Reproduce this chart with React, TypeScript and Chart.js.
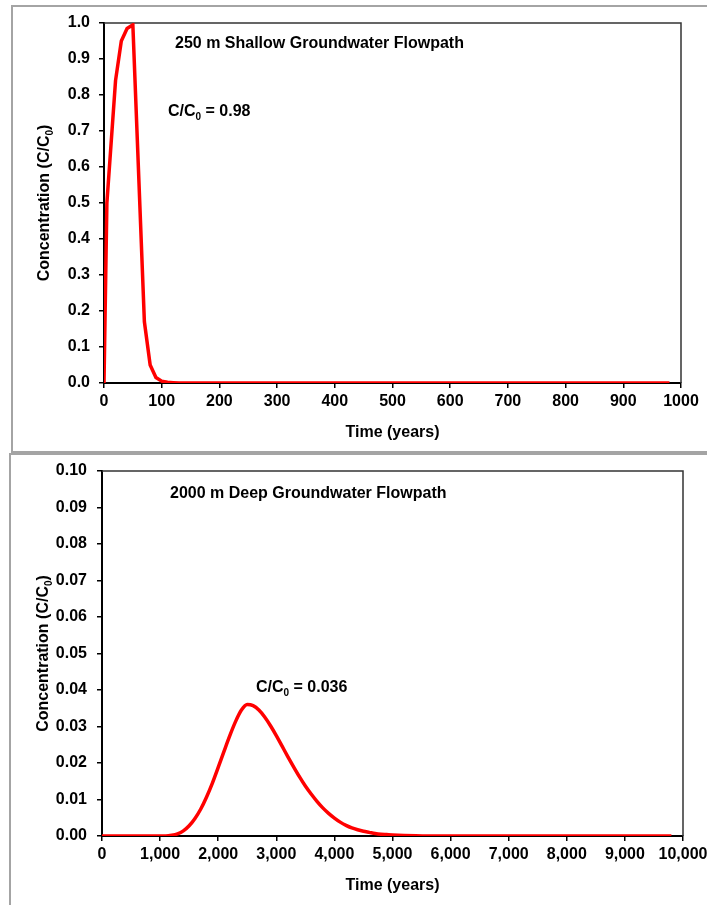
import { useEffect, useRef } from 'react';
import { Chart, registerables } from 'chart.js';

Chart.register(...registerables);

const FONT = '"Liberation Sans", Arial, Helvetica, sans-serif';

// ---- Top chart data (250 m shallow flowpath) ----
const topYears = [0, 5, 20, 30, 40, 50, 70, 80, 90, 100, 110, 120, 130, 980];
const topConc = [0, 0.5, 0.84, 0.95, 0.985, 0.995, 0.17, 0.05, 0.015, 0.005, 0.002, 0.001, 0, 0];
const topXTicks = [0, 100, 200, 300, 400, 500, 600, 700, 800, 900, 1000];
const topXLabels = ['0', '100', '200', '300', '400', '500', '600', '700', '800', '900', '1000'];
const topYTicks = [0, 0.1, 0.2, 0.3, 0.4, 0.5, 0.6, 0.7, 0.8, 0.9, 1.0];
const topYLabels = ['0.0', '0.1', '0.2', '0.3', '0.4', '0.5', '0.6', '0.7', '0.8', '0.9', '1.0'];

// ---- Bottom chart data (2000 m deep flowpath) ----
const bottomYears = [
  0, 1100, 1200, 1300, 1400, 1500, 1600, 1700, 1800, 1900, 2000, 2100, 2200, 2300, 2400, 2500,
  2600, 2700, 2800, 2900, 3000, 3100, 3200, 3300, 3400, 3500, 3600, 3700, 3800, 3900, 4000,
  4100, 4200, 4300, 4400, 4500, 4600, 4700, 4800, 4900, 5000, 5200, 5400, 5600, 9800,
];
const bottomConc = [
  0, 0, 0.0002, 0.0006, 0.0014, 0.0028, 0.0048, 0.0074, 0.0107, 0.0145, 0.0188, 0.0232, 0.0275,
  0.0314, 0.0345, 0.036, 0.0357, 0.0345, 0.0326, 0.0302, 0.0275, 0.0246, 0.0217, 0.0189, 0.0162,
  0.0137, 0.0115, 0.0095, 0.0077, 0.0062, 0.0049, 0.0038, 0.0029, 0.0022, 0.0017, 0.0013, 0.001,
  0.0007, 0.0005, 0.0004, 0.0003, 0.00015, 0.00005, 0, 0,
];
const bottomXTicks = [0, 1000, 2000, 3000, 4000, 5000, 6000, 7000, 8000, 9000, 10000];
const bottomXLabels = ['0', '1,000', '2,000', '3,000', '4,000', '5,000', '6,000', '7,000', '8,000', '9,000', '10,000'];
const bottomYTicks = [0, 0.01, 0.02, 0.03, 0.04, 0.05, 0.06, 0.07, 0.08, 0.09, 0.1];
const bottomYLabels = ['0.00', '0.01', '0.02', '0.03', '0.04', '0.05', '0.06', '0.07', '0.08', '0.09', '0.10'];

type Part = { t: string; sub?: boolean };

function richWidth(ctx: CanvasRenderingContext2D, parts: Part[], size: number) {
  let w = 0;
  for (const p of parts) {
    ctx.font = `bold ${p.sub ? Math.round(size * 0.65) : size}px ${FONT}`;
    w += ctx.measureText(p.t).width;
  }
  return w;
}

function drawRich(ctx: CanvasRenderingContext2D, parts: Part[], x: number, y: number, size: number) {
  let cx = x;
  ctx.textBaseline = 'alphabetic';
  ctx.textAlign = 'left';
  ctx.fillStyle = '#000';
  for (const p of parts) {
    const s = p.sub ? Math.round(size * 0.65) : size;
    ctx.font = `bold ${s}px ${FONT}`;
    ctx.fillText(p.t, cx, p.sub ? y + size * 0.22 : y);
    cx += ctx.measureText(p.t).width;
  }
}

const yTitleParts: Part[] = [{ t: 'Concentration (C/C' }, { t: '0', sub: true }, { t: ')' }];
const TEXT_SIZE = 16;

interface Cfg {
  years: number[];
  conc: number[];
  xTicks: number[];
  xLabels: string[];
  yTicks: number[];
  yLabels: string[];
  yAxisWidth: number;
  xAxisHeight: number;
  padTop: number;
  padRight: number;
  yPad: number;
  monotone: boolean;
  title: string;
  titleDX: number;
  titleDY: number;
  ratio: string;
  ratioDX: number;
  ratioDY: number;
  yTitleX: number;
  xTitleDY: number;
}

function makeChart(canvas: HTMLCanvasElement, c: Cfg) {
  const textPlugin = {
    id: 'texts',
    beforeDatasetsDraw(chart: any) {
      const { ctx, chartArea: a } = chart;
      ctx.save();
      ctx.strokeStyle = '#333';
      ctx.lineWidth = 1.5;
      ctx.beginPath();
      ctx.moveTo(a.left, a.top);
      ctx.lineTo(a.right, a.top);
      ctx.lineTo(a.right, a.bottom);
      ctx.stroke();
      ctx.restore();
    },
    afterDraw(chart: any) {
      const { ctx, chartArea: a } = chart;
      ctx.save();
      drawRich(ctx, [{ t: c.title }], a.left + c.titleDX, a.top + c.titleDY, TEXT_SIZE);
      drawRich(
        ctx,
        [{ t: 'C/C' }, { t: '0', sub: true }, { t: ' = ' + c.ratio }],
        a.left + c.ratioDX,
        a.top + c.ratioDY,
        TEXT_SIZE
      );
      ctx.font = `bold ${TEXT_SIZE}px ${FONT}`;
      ctx.textAlign = 'center';
      ctx.textBaseline = 'alphabetic';
      ctx.fillStyle = '#000';
      ctx.fillText('Time (years)', (a.left + a.right) / 2, a.bottom + c.xTitleDY);
      const w = richWidth(ctx, yTitleParts, TEXT_SIZE);
      ctx.translate(c.yTitleX, (a.top + a.bottom) / 2);
      ctx.rotate(-Math.PI / 2);
      drawRich(ctx, yTitleParts, -w / 2, 0, TEXT_SIZE);
      ctx.restore();
    },
  };

  const tickFont = { family: FONT, size: 16, weight: 'bold' as const };

  return new Chart(canvas, {
    type: 'line',
    data: {
      datasets: [
        {
          data: c.years.map((x, i) => ({ x, y: c.conc[i] })),
          borderColor: '#ff0000',
          borderWidth: 3.5,
          pointRadius: 0,
          fill: false,
          tension: 0,
          cubicInterpolationMode: c.monotone ? 'monotone' : 'default',
        },
      ],
    },
    options: {
      responsive: false,
      animation: false,
      devicePixelRatio: 1,
      layout: { padding: { top: c.padTop, right: c.padRight, left: 0, bottom: 0 } },
      plugins: { legend: { display: false }, tooltip: { enabled: false }, title: { display: false } },
      scales: {
        x: {
          type: 'linear',
          min: c.xTicks[0],
          max: c.xTicks[c.xTicks.length - 1],
          afterBuildTicks: (s: any) => {
            s.ticks = c.xTicks.map((v) => ({ value: v }));
          },
          afterFit: (s: any) => {
            s.height = c.xAxisHeight;
            s.paddingLeft = 0;
            s.paddingRight = 0;
          },
          ticks: {
            autoSkip: false,
            maxRotation: 0,
            minRotation: 0,
            color: '#000',
            font: tickFont,
            padding: 4,
            callback: (_v: any, i: number) => c.xLabels[i],
          },
          grid: { display: true, drawOnChartArea: false, drawTicks: true, tickLength: 5, color: '#000', lineWidth: 1.5 },
          border: { display: true, color: '#000', width: 2 },
        },
        y: {
          type: 'linear',
          min: c.yTicks[0],
          max: c.yTicks[c.yTicks.length - 1],
          afterBuildTicks: (s: any) => {
            s.ticks = c.yTicks.map((v) => ({ value: v }));
          },
          afterFit: (s: any) => {
            s.width = c.yAxisWidth;
            s.paddingTop = 0;
            s.paddingBottom = 0;
          },
          ticks: {
            autoSkip: false,
            color: '#000',
            font: tickFont,
            padding: c.yPad,
            callback: (_v: any, i: number) => c.yLabels[i],
          },
          grid: { display: true, drawOnChartArea: false, drawTicks: true, tickLength: 5, color: '#000', lineWidth: 1.5 },
          border: { display: true, color: '#000', width: 2 },
        },
      },
    },
    plugins: [textPlugin],
  } as any);
}

export default function App() {
  const topRef = useRef<HTMLCanvasElement>(null);
  const botRef = useRef<HTMLCanvasElement>(null);

  useEffect(() => {
    const charts: Chart[] = [];
    if (topRef.current) {
      charts.push(
        makeChart(topRef.current, {
          years: topYears,
          conc: topConc,
          xTicks: topXTicks,
          xLabels: topXLabels,
          yTicks: topYTicks,
          yLabels: topYLabels,
          yAxisWidth: 104,
          xAxisHeight: 452 - 383,
          padTop: 23,
          padRight: 707 - 681,
          yPad: 9,
          monotone: false,
          title: '250 m Shallow Groundwater Flowpath',
          titleDX: 71,
          titleDY: 25,
          ratio: '0.98',
          ratioDX: 64,
          ratioDY: 93,
          yTitleX: 49,
          xTitleDY: 54,
        })
      );
    }
    if (botRef.current) {
      charts.push(
        makeChart(botRef.current, {
          years: bottomYears,
          conc: bottomConc,
          xTicks: bottomXTicks,
          xLabels: bottomXLabels,
          yTicks: bottomYTicks,
          yLabels: bottomYLabels,
          yAxisWidth: 102,
          xAxisHeight: 450 - 381,
          padTop: 16,
          padRight: 707 - 683,
          yPad: 10,
          monotone: true,
          title: '2000 m Deep Groundwater Flowpath',
          titleDX: 68,
          titleDY: 27,
          ratio: '0.036',
          ratioDX: 154,
          ratioDY: 221,
          yTitleX: 48,
          xTitleDY: 54,
        })
      );
    }
    return () => charts.forEach((ch) => ch.destroy());
  }, []);

  return (
    <div style={{ position: 'absolute', left: 0, top: 0, width: 707, height: 905, overflow: 'hidden', background: '#fff' }}>
      <div style={{ position: 'absolute', left: 11, top: 5, width: 740, height: 448, border: '2px solid #a4a4a4', boxSizing: 'border-box' }} />
      <div style={{ position: 'absolute', left: 9, top: 453, width: 740, height: 500, border: '2px solid #a4a4a4', boxSizing: 'border-box' }} />
      <canvas ref={topRef} width={707} height={452} style={{ position: 'absolute', left: 0, top: 0, width: 707, height: 452 }} />
      <canvas ref={botRef} width={707} height={450} style={{ position: 'absolute', left: 0, top: 455, width: 707, height: 450 }} />
    </div>
  );
}
